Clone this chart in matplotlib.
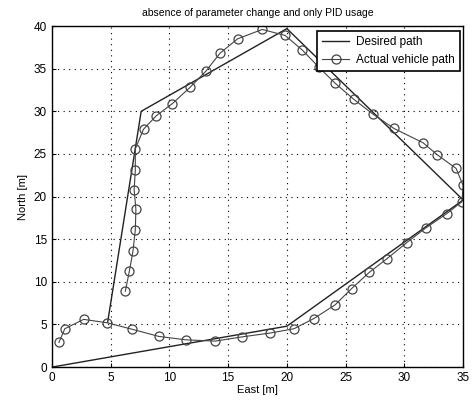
import numpy as np
import matplotlib
matplotlib.use('Agg')
import matplotlib.pyplot as plt

# data
desired_east = [0, 20, 35, 20, 7.6, 4.75]
desired_north = [0, 4.8, 19.6, 39.7, 30, 5.3]

actual_east = [0.6, 1.1, 2.7, 4.7, 6.8, 9.1, 11.4, 13.9, 16.2, 18.6, 20.6, 22.3, 24.1,
               25.5, 27.0, 28.5, 30.2, 31.8, 33.6, 34.9, 35.0, 34.4, 32.8, 31.6, 29.1,
               27.3, 25.7, 24.1, 22.7, 21.3, 19.85, 17.9, 15.8, 14.3, 13.1, 11.75, 10.25,
               8.9, 7.8, 7.1, 7.1, 7.0, 7.15, 7.1, 6.9, 6.6, 6.25]
actual_north = [2.9, 4.5, 5.6, 5.2, 4.45, 3.6, 3.2, 3.05, 3.55, 4.0, 4.5, 5.7, 7.3,
                9.2, 11.1, 12.7, 14.6, 16.3, 18.0, 19.4, 21.3, 23.3, 24.9, 26.3, 28.0,
                29.7, 31.4, 33.3, 35.2, 37.2, 38.9, 39.6, 38.5, 36.8, 34.7, 32.8, 30.9,
                29.5, 27.9, 25.6, 23.1, 20.8, 18.5, 16.1, 13.6, 11.3, 8.9]

title = 'absence of parameter change and only PID usage'

plt.rcParams['font.family'] = ['Liberation Sans', 'DejaVu Sans']

fig = plt.figure(figsize=(4.76, 4.07), dpi=100)
ax = fig.add_axes([0.109, 0.098, 0.864, 0.838])

ax.plot(desired_east, desired_north, '-', color='#222222', linewidth=1.0, label='Desired path')
ax.plot(actual_east, actual_north, '-o', color='#444444', linewidth=0.8,
        markersize=6.5, markerfacecolor='none', markeredgewidth=0.9, label='Actual vehicle path')

ax.set_xlim(0, 35)
ax.set_ylim(0, 40)
ax.set_xticks(np.arange(0, 36, 5))
ax.set_yticks(np.arange(0, 41, 5))
ax.tick_params(labelsize=8.5, direction='in', length=3)
ax.grid(True, color='black', linestyle=(0, (1, 4)), linewidth=0.8)
for s in ax.spines.values():
    s.set_linewidth(1.0)

ax.set_xlabel('East [m]', fontsize=8, labelpad=1)
ax.set_ylabel('North [m]', fontsize=8, labelpad=4)
ax.set_title(title, fontsize=7.5, pad=7)

leg = ax.legend(loc='upper right', bbox_to_anchor=(0.9935, 0.985), fontsize=8.5,
                frameon=True, fancybox=False, edgecolor='black', framealpha=1,
                borderaxespad=0, handlelength=2.3, borderpad=0.45, labelspacing=0.45,
                handletextpad=0.6)
leg.get_frame().set_linewidth(1.2)

fig.savefig('out.png', dpi=100)
